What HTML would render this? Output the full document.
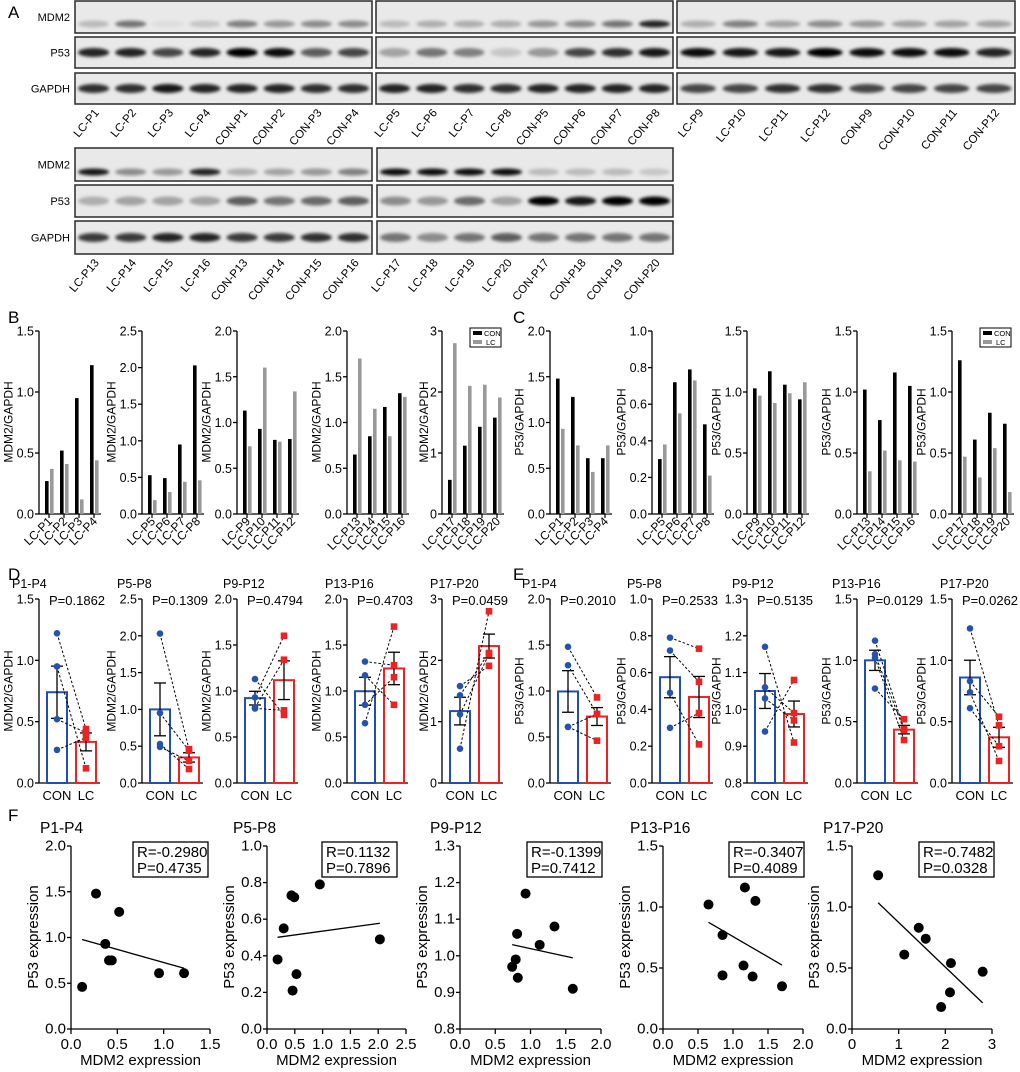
<!DOCTYPE html>
<html><head><meta charset="utf-8"><title>MDM2 P53 figure</title>
<style>
html,body{margin:0;padding:0;background:#fff;}
svg{display:block;font-family:"Liberation Sans",Arial,sans-serif;}
</style></head>
<body>
<svg id="fig" width="1020" height="1072" viewBox="0 0 1020 1072" xmlns="http://www.w3.org/2000/svg">
<defs><filter id="blur" x="-50%" y="-100%" width="200%" height="300%"><feGaussianBlur stdDeviation="1.6"/></filter></defs>
</svg>
<script>
// ---------- data ----------
const groupLabels=['P1-P4','P5-P8','P9-P12','P13-P16','P17-P20'];
const laneLabels=[
 ['LC-P1','LC-P2','LC-P3','LC-P4','CON-P1','CON-P2','CON-P3','CON-P4'],
 ['LC-P5','LC-P6','LC-P7','LC-P8','CON-P5','CON-P6','CON-P7','CON-P8'],
 ['LC-P9','LC-P10','LC-P11','LC-P12','CON-P9','CON-P10','CON-P11','CON-P12'],
 ['LC-P13','LC-P14','LC-P15','LC-P16','CON-P13','CON-P14','CON-P15','CON-P16'],
 ['LC-P17','LC-P18','LC-P19','LC-P20','CON-P17','CON-P18','CON-P19','CON-P20']];
const blotMDM2=[[0.2,0.5,0.05,0.15,0.45,0.35,0.4,0.4],[0.2,0.25,0.25,0.25,0.35,0.4,0.5,0.85],[0.25,0.45,0.3,0.4,0.35,0.3,0.3,0.3],[0.9,0.4,0.35,0.85,0.25,0.3,0.35,0.45],[0.95,0.95,0.95,0.95,0.2,0.2,0.2,0.15]];
const blotP53=[[0.85,0.85,0.7,0.85,1,0.95,0.6,0.7],[0.3,0.5,0.45,0.15,0.35,0.7,0.8,0.9],[0.95,0.9,0.9,1,0.95,0.95,0.95,0.85],[0.25,0.3,0.3,0.3,0.6,0.5,0.55,0.6],[0.4,0.35,0.55,0.3,1,0.9,1,1]];
const blotGAPDH=[[0.8,0.8,0.9,0.85,0.85,0.85,0.8,0.8],[0.85,0.85,0.8,0.8,0.85,0.85,0.85,0.85],[0.7,0.7,0.8,0.8,0.7,0.7,0.7,0.7],[0.75,0.75,0.85,0.85,0.75,0.75,0.8,0.8],[0.5,0.4,0.5,0.6,0.5,0.5,0.5,0.5]];

const mdm2Con=[[0.27,0.52,0.95,1.22],[0.53,0.49,0.95,2.03],[1.13,0.93,0.81,0.82],[0.65,0.85,1.17,1.32],[0.56,1.12,1.43,1.58]];
const mdm2Lc=[[0.37,0.41,0.12,0.44],[0.19,0.30,0.44,0.46],[0.74,1.60,0.79,1.34],[1.70,1.15,0.85,1.28],[2.80,2.10,2.12,1.91]];
const p53Con=[[1.48,1.28,0.61,0.61],[0.30,0.72,0.79,0.49],[1.03,1.17,1.06,0.94],[1.02,0.77,1.16,1.05],[1.26,0.61,0.83,0.74]];
const p53Lc=[[0.93,0.75,0.46,0.75],[0.38,0.55,0.73,0.21],[0.97,0.91,0.99,1.08],[0.35,0.52,0.44,0.43],[0.47,0.30,0.54,0.18]];

const mdmTicks=[['0.0','0.5','1.0','1.5'],['0.0','0.5','1.0','1.5','2.0','2.5'],['0.0','0.5','1.0','1.5','2.0'],['0.0','0.5','1.0','1.5','2.0'],['0','1','2','3']];
const p53TicksC=[['0.0','0.5','1.0','1.5','2.0'],['0.0','0.2','0.4','0.6','0.8','1.0'],['0.0','0.5','1.0','1.5'],['0.0','0.5','1.0','1.5'],['0.0','0.5','1.0','1.5']];
const p53TicksE=[['0.0','0.5','1.0','1.5','2.0'],['0.0','0.2','0.4','0.6','0.8','1.0'],['0.8','0.9','1.0','1.1','1.2','1.3'],['0.0','0.5','1.0','1.5'],['0.0','0.5','1.0','1.5']];
const pMdm=['P=0.1862','P=0.1309','P=0.4794','P=0.4703','P=0.0459'];
const pP53=['P=0.2010','P=0.2533','P=0.5135','P=0.0129','P=0.0262'];
const fXTicks=[['0.0','0.5','1.0','1.5'],['0.0','0.5','1.0','1.5','2.0','2.5'],['0.0','0.5','1.0','1.5','2.0'],['0.0','0.5','1.0','1.5','2.0'],['0','1','2','3']];
const fYTicks=[['0.0','0.5','1.0','1.5','2.0'],['0.0','0.2','0.4','0.6','0.8','1.0'],['0.8','0.9','1.0','1.1','1.2','1.3'],['0.0','0.5','1.0','1.5'],['0.0','0.5','1.0','1.5']];
const corrR=['R=-0.2980','R=0.1132','R=-0.1399','R=-0.3407','R=-0.7482'];
const corrP=['P=0.4735','P=0.7896','P=0.7412','P=0.4089','P=0.0328'];

// ---------- helpers ----------
const NS='http://www.w3.org/2000/svg';
const svg=document.getElementById('fig');
function mk(tag,attrs,parent){const e=document.createElementNS(NS,tag);for(const k in attrs)e.setAttribute(k,attrs[k]);(parent||svg).appendChild(e);return e;}
function txt(x,y,s,size,anchor,parent,extra){const t=mk('text',Object.assign({x:x,y:y,'font-size':size,'text-anchor':anchor||'start',fill:'#000'},extra||{}),parent);t.textContent=s;return t;}
function grp(name){const g=mk('g',{});

return g;}
const nums=a=>a.map(parseFloat);
const mean=a=>a.reduce((s,v)=>s+v,0)/a.length;
const sem=a=>{const m=mean(a);return Math.sqrt(a.reduce((s,v)=>s+(v-m)*(v-m),0)/(a.length-1))/Math.sqrt(a.length);};
const maxLen=t=>Math.max(...t.map(s=>s.length));

// panel letters
[['A',8,18],['B',8,323],['C',513,323],['D',8,580],['E',513,580],['F',8,821]].forEach(p=>{
 const t=txt(p[1],p[2],p[0],17,'start');
 
 
});

// ---------- Panel A blots ----------
const blotBoxes=[[75,372,0],[376,673,0],[677,1015,0],[75,372,1],[377,673,1]];
const rowStrips=[[[1,33],[37,68],[73,104]],[[148,181],[185,217],[221,254]]];
const protNames=['MDM2','P53','GAPDH'];
const protData=[blotMDM2,blotP53,blotGAPDH];
[0,1].forEach(r=>{protNames.forEach((n,pi)=>{const s=rowStrips[r][pi];
 const t=txt(70,(s[0]+s[1])/2+4,n,11,'end');
 
 
});});
blotBoxes.forEach((b,gi)=>{
 const g=grp('blot-group-'+(gi+1));
 const w=(b[1]-b[0])/8;
 protNames.forEach((n,pi)=>{
  const s=rowStrips[b[2]][pi];
  const strip=mk('rect',{x:b[0],y:s[0],width:b[1]-b[0],height:s[1]-s[0],fill:'#e9e9e9',stroke:'#2a2a2a','stroke-width':1.5},g);
  
  
  protData[pi][gi].forEach((v,li)=>{
   const cy=pi===0?s[1]-9:(s[0]+s[1])/2;
   const band=mk('ellipse',{cx:b[0]+(li+0.5)*w,cy:cy,rx:w*0.42,ry:pi===0?3.5:4.5,fill:'#000','fill-opacity':v,filter:'url(#blur)'},g);
   
   
  });
 });
 const by=rowStrips[b[2]][2][1];
 laneLabels[gi].forEach((l,li)=>{
  const cx=b[0]+(li+0.5)*w+6;
  const t=txt(cx,by+9,l,11.5,'end',g,{transform:'rotate(-50 '+cx+' '+(by+9)+')'});
  
  
 });
});

// ---------- bar panels B / C ----------
const axX=[[39,142,237,347,442],[550,652,747,857,952]];
function yAxis(g,X0,yTop,yBase,lo,hi,ticks,size){
 const sc=v=>yBase-(v-lo)/(hi-lo)*(yBase-yTop);
 mk('line',{x1:X0,y1:yTop,x2:X0,y2:yBase,stroke:'#000','stroke-width':1.3},g);
 ticks.forEach(t=>{const v=parseFloat(t);const y=sc(v);
  mk('line',{x1:X0-4,y1:y,x2:X0,y2:y,stroke:'#000','stroke-width':1.3},g);
  const tl=txt(X0-5,y+4.5,t,size,'end',g);
  
  
 });
 return sc;
}
function titleX(X0,ticks){return X0-5-maxLen(ticks)*6.2-3;}
function barPanel(X0,con,lc,ticks,title,labels,legend,name){
 const g=grp(name);
 const tv=nums(ticks);const sc=yAxis(g,X0,331,514,tv[0],tv[tv.length-1],ticks,12.5);
 mk('line',{x1:X0,y1:514,x2:X0+62,y2:514,stroke:'#000','stroke-width':1.3},g);
 con.forEach((v,i)=>{
  const cx=X0+10+i*15;
  const b1=mk('rect',{x:cx-4,y:sc(v),width:3.6,height:514-sc(v),fill:'#000'},g);
  
  
  const b2=mk('rect',{x:cx+1,y:sc(lc[i]),width:3.6,height:514-sc(lc[i]),fill:'#999'},g);
  
  
  mk('line',{x1:cx,y1:514,x2:cx,y2:518,stroke:'#000','stroke-width':1.2},g);
  const t=txt(cx+4,522,labels[i],12,'end',g,{transform:'rotate(-45 '+(cx+4)+' 522)'});
  
  
 });
 const yt=txt(0,0,title,12,'middle',g,{transform:'translate('+titleX(X0,ticks)+' 422) rotate(-90)'});
 
 
 if(legend){
  const lg=mk('g',{},g);
  
  
  mk('rect',{x:X0+28,y:328,width:31,height:19,fill:'#fff',stroke:'#000','stroke-width':1},lg);
  mk('rect',{x:X0+31,y:331,width:9,height:4,fill:'#000'},lg);
  mk('rect',{x:X0+31,y:340,width:9,height:4,fill:'#999'},lg);
  const a=txt(X0+42,336,'CON',7.5,'start',lg);
  
  
  const b=txt(X0+44,345,'LC',7.5,'start',lg);
  
  
 }
}
for(let i=0;i<5;i++){
 const labs=laneLabels[i].slice(0,4);
 barPanel(axX[0][i],mdm2Con[i],mdm2Lc[i],mdmTicks[i],'MDM2/GAPDH',labs,i===4,'chart-b-'+(i+1));
 barPanel(axX[1][i],p53Con[i],p53Lc[i],p53TicksC[i],'P53/GAPDH',labs,i===4,'chart-c-'+(i+1));
}

// ---------- dot/bar panels D / E ----------
function dotPanel(X0,con,lc,ticks,ytitle,title,ptxt,tX,name){
 const g=grp(name);
 const tv=nums(ticks);const sc=yAxis(g,X0,599,783,tv[0],tv[tv.length-1],ticks,12.5);
 mk('line',{x1:X0,y1:783,x2:X0+61,y2:783,stroke:'#000','stroke-width':1.3},g);
 const cc=X0+18,lcx=X0+47;
 const mc=mean(con),ml=mean(lc);
 const r1=mk('rect',{x:cc-10,y:sc(mc),width:20,height:783-sc(mc),fill:'none',stroke:'#1f4fb0','stroke-width':2},g);
 
 
 const r2=mk('rect',{x:lcx-10,y:sc(ml),width:20,height:783-sc(ml),fill:'none',stroke:'#ee2222','stroke-width':2},g);
 
 
 con.forEach((v,i)=>{
  const ln=mk('line',{x1:cc,y1:sc(v),x2:lcx,y2:sc(lc[i]),stroke:'#000','stroke-width':1,'stroke-dasharray':'2.5,2'},g);
  
  
 });
 [[cc,mc,sem(con)],[lcx,ml,sem(lc)]].forEach(e=>{
  mk('line',{x1:e[0],y1:sc(e[1]+e[2]),x2:e[0],y2:sc(e[1]-e[2]),stroke:'#000','stroke-width':1.3},g);
  mk('line',{x1:e[0]-6,y1:sc(e[1]+e[2]),x2:e[0]+6,y2:sc(e[1]+e[2]),stroke:'#000','stroke-width':1.3},g);
  mk('line',{x1:e[0]-6,y1:sc(e[1]-e[2]),x2:e[0]+6,y2:sc(e[1]-e[2]),stroke:'#000','stroke-width':1.3},g);
 });
 con.forEach(v=>{
  const c=mk('circle',{cx:cc,cy:sc(v),r:3.3,fill:'#2452b0'},g);
  
  
 });
 lc.forEach(v=>{
  const s=mk('rect',{x:lcx-3.3,y:sc(v)-3.3,width:6.6,height:6.6,fill:'#ee2222'},g);
  
  
 });
 const a=txt(cc,800,'CON',13,'middle',g);
 
 
 const b=txt(lcx,800,'LC',13,'middle',g);
 
 
 const tt=txt(tX,588,title,12.5,'start',g);
 
 
 const pt=txt(X0+10,605,ptxt,13,'start',g);
 
 
 const yt=txt(0,0,ytitle,12,'middle',g,{transform:'translate('+titleX(X0,ticks)+' 691) rotate(-90)'});
 
 
}
const dTitleX=[12,117,223,325,430],eTitleX=[522,627,732,832,940];
for(let i=0;i<5;i++){
 dotPanel(axX[0][i],mdm2Con[i],mdm2Lc[i],mdmTicks[i],'MDM2/GAPDH',groupLabels[i],pMdm[i],dTitleX[i],'chart-d-'+(i+1));
 dotPanel(axX[1][i],p53Con[i],p53Lc[i],p53TicksE[i],'P53/GAPDH',groupLabels[i],pP53[i],eTitleX[i],'chart-e-'+(i+1));
}

// ---------- scatter panels F ----------
const fX0=[71,267,460,663,852],fX1=[210,406,601,803,992];
const fBoxX=[133,322,527,729,919],fTitleX=[40,233,430,630,823];
function scatter(i){
 const g=grp('chart-f-'+(i+1));
 const X0=fX0[i],X1=fX1[i],yTop=846,yBase=1029;
 const xt=nums(fXTicks[i]),yt=nums(fYTicks[i]);
 const xs=v=>X0+(v-xt[0])/(xt[xt.length-1]-xt[0])*(X1-X0);
 const ys=yAxis(g,X0,yTop,yBase,yt[0],yt[yt.length-1],fYTicks[i],15);
 mk('line',{x1:X0,y1:yBase,x2:X1,y2:yBase,stroke:'#000','stroke-width':1.3},g);
 fXTicks[i].forEach(t=>{const x=xs(parseFloat(t));
  mk('line',{x1:x,y1:yBase,x2:x,y2:yBase+5,stroke:'#000','stroke-width':1.3},g);
  const l=txt(x,1049,t,15,'middle',g);
  
  
 });
 const px=mdm2Con[i].concat(mdm2Lc[i]),py=p53Con[i].concat(p53Lc[i]);
 const mx=mean(px),my=mean(py);
 let sxy=0,sxx=0;px.forEach((x,k)=>{sxy+=(x-mx)*(py[k]-my);sxx+=(x-mx)*(x-mx);});
 const slope=sxy/sxx,icpt=my-slope*mx;
 const xa=Math.min(...px),xb=Math.max(...px);
 const rl=mk('line',{x1:xs(xa),y1:ys(icpt+slope*xa),x2:xs(xb),y2:ys(icpt+slope*xb),stroke:'#000','stroke-width':1.3},g);
 
 
 px.forEach((x,k)=>{
  const c=mk('circle',{cx:xs(x),cy:ys(py[k]),r:5,fill:'#000'},g);
  
  
 });
 const bx=mk('rect',{x:fBoxX[i],y:842,width:75,height:35,fill:'#fff',stroke:'#000','stroke-width':1.3},g);
 
 
 const r=txt(fBoxX[i]+4,857,corrR[i],15,'start',g);
 
 
 const p=txt(fBoxX[i]+4,873,corrP[i],15,'start',g);
 
 
 const tt=txt(fTitleX[i],833,groupLabels[i],15.5,'start',g);
 
 
 const xT=txt((X0+X1)/2,1065,'MDM2 expression',15,'middle',g);
 
 
 const yT=txt(0,0,'P53 expression',15,'middle',g,{transform:'translate('+(X0-33)+' 937) rotate(-90)'});
 
 
}
for(let i=0;i<5;i++)scatter(i);
</script>
</body></html>
